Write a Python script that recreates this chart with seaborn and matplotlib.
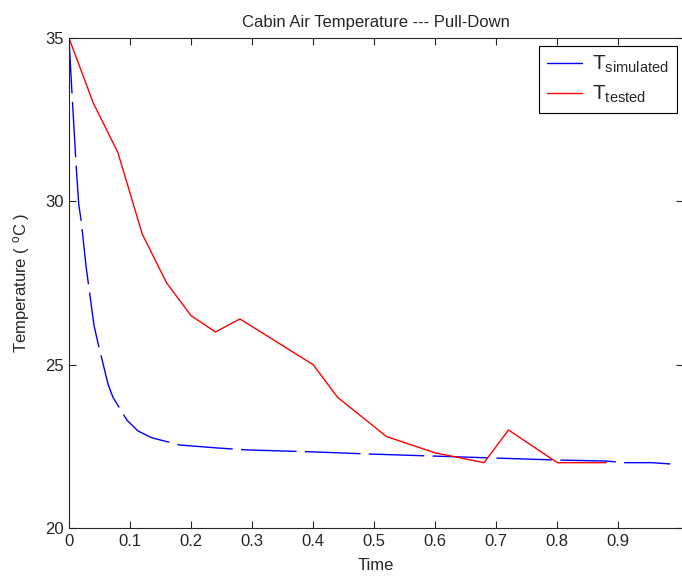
import matplotlib
matplotlib.use("Agg")
import matplotlib.pyplot as plt
from matplotlib.lines import Line2D
import seaborn as sns
import pandas as pd

# --- data ---
sim_time = [0.0, 0.004, 0.008, 0.012, 0.016, 0.020, 0.028, 0.041, 0.047, 0.064,
            0.072, 0.095, 0.113, 0.136, 0.182, 0.243, 0.292, 0.40, 0.50, 0.60,
            0.70, 0.80, 0.88, 0.91, 0.955, 0.985]
sim_temp = [35.0, 33.6, 32.3, 31.0, 29.9, 29.4, 28.0, 26.2, 25.7, 24.4,
            24.0, 23.3, 22.97, 22.76, 22.54, 22.45, 22.39, 22.33, 22.26, 22.2,
            22.14, 22.08, 22.05, 22.0, 22.0, 21.96]

test_time = [0.0, 0.04, 0.08, 0.12, 0.16, 0.20, 0.24, 0.28, 0.40, 0.44,
             0.52, 0.60, 0.68, 0.72, 0.80, 0.88]
test_temp = [35.0, 33.0, 31.5, 29.0, 27.5, 26.5, 26.0, 26.4, 25.0, 24.0,
             22.8, 22.3, 22.0, 23.0, 22.0, 22.0]

xticks = [0, 0.1, 0.2, 0.3, 0.4, 0.5, 0.6, 0.7, 0.8, 0.9]
xtick_labels = ["0", "0.1", "0.2", "0.3", "0.4", "0.5", "0.6", "0.7", "0.8", "0.9"]
yticks = [20, 25, 30, 35]

sim = pd.DataFrame({"Time": sim_time, "Temp": sim_temp})
test = pd.DataFrame({"Time": test_time, "Temp": test_temp})

sns.set_style("ticks")
plt.rcParams["font.family"] = ["Liberation Sans", "DejaVu Sans"]
plt.rcParams["mathtext.fontset"] = "custom"
plt.rcParams["mathtext.rm"] = "Liberation Sans"

fig = plt.figure(figsize=(6.82, 5.76), dpi=100)
ax = fig.add_axes([69 / 682, 48 / 576, 613.5 / 682, 490 / 576])

sns.lineplot(data=sim, x="Time", y="Temp", ax=ax, color="#0000ff", lw=1.0,
             dashes=False, estimator=None, sort=False)
ax.lines[-1].set_dashes([40, 6])
sns.lineplot(data=test, x="Time", y="Temp", ax=ax, color="#ff0000", lw=1.0,
             estimator=None, sort=False)

ax.set_xlim(0, 1.005)
ax.set_ylim(20, 35)
ax.set_xticks(xticks, xtick_labels)
ax.set_yticks(yticks)
ax.tick_params(direction="in", top=True, right=True, labelsize=12, length=5, width=0.8)
ax.tick_params(axis="x", pad=4.5)
for s in ax.spines.values():
    s.set_linewidth(0.8)

ax.set_title("Cabin Air Temperature --- Pull-Down", fontsize=12, pad=8)
ax.set_xlabel("Time", fontsize=12, labelpad=6)
ax.set_ylabel("Temperature ( $\\mathregular{^{o}}$C )", fontsize=12, labelpad=10)

handles = [Line2D([], [], color="#0000ff", lw=1.0), Line2D([], [], color="#ff0000", lw=1.0)]
labels = ["$\\mathregular{T_{simulated}}$", "$\\mathregular{T_{tested}}$"]
leg = ax.legend(handles, labels, loc="upper right", fontsize=15, frameon=True,
                fancybox=False, edgecolor="black", framealpha=1, handlelength=1.65,
                handletextpad=0.5, borderpad=0.4, borderaxespad=0, labelspacing=0.4,
                bbox_to_anchor=(0.991, 0.984))
leg.get_frame().set_linewidth(0.8)

fig.savefig("out.png", dpi=100)
